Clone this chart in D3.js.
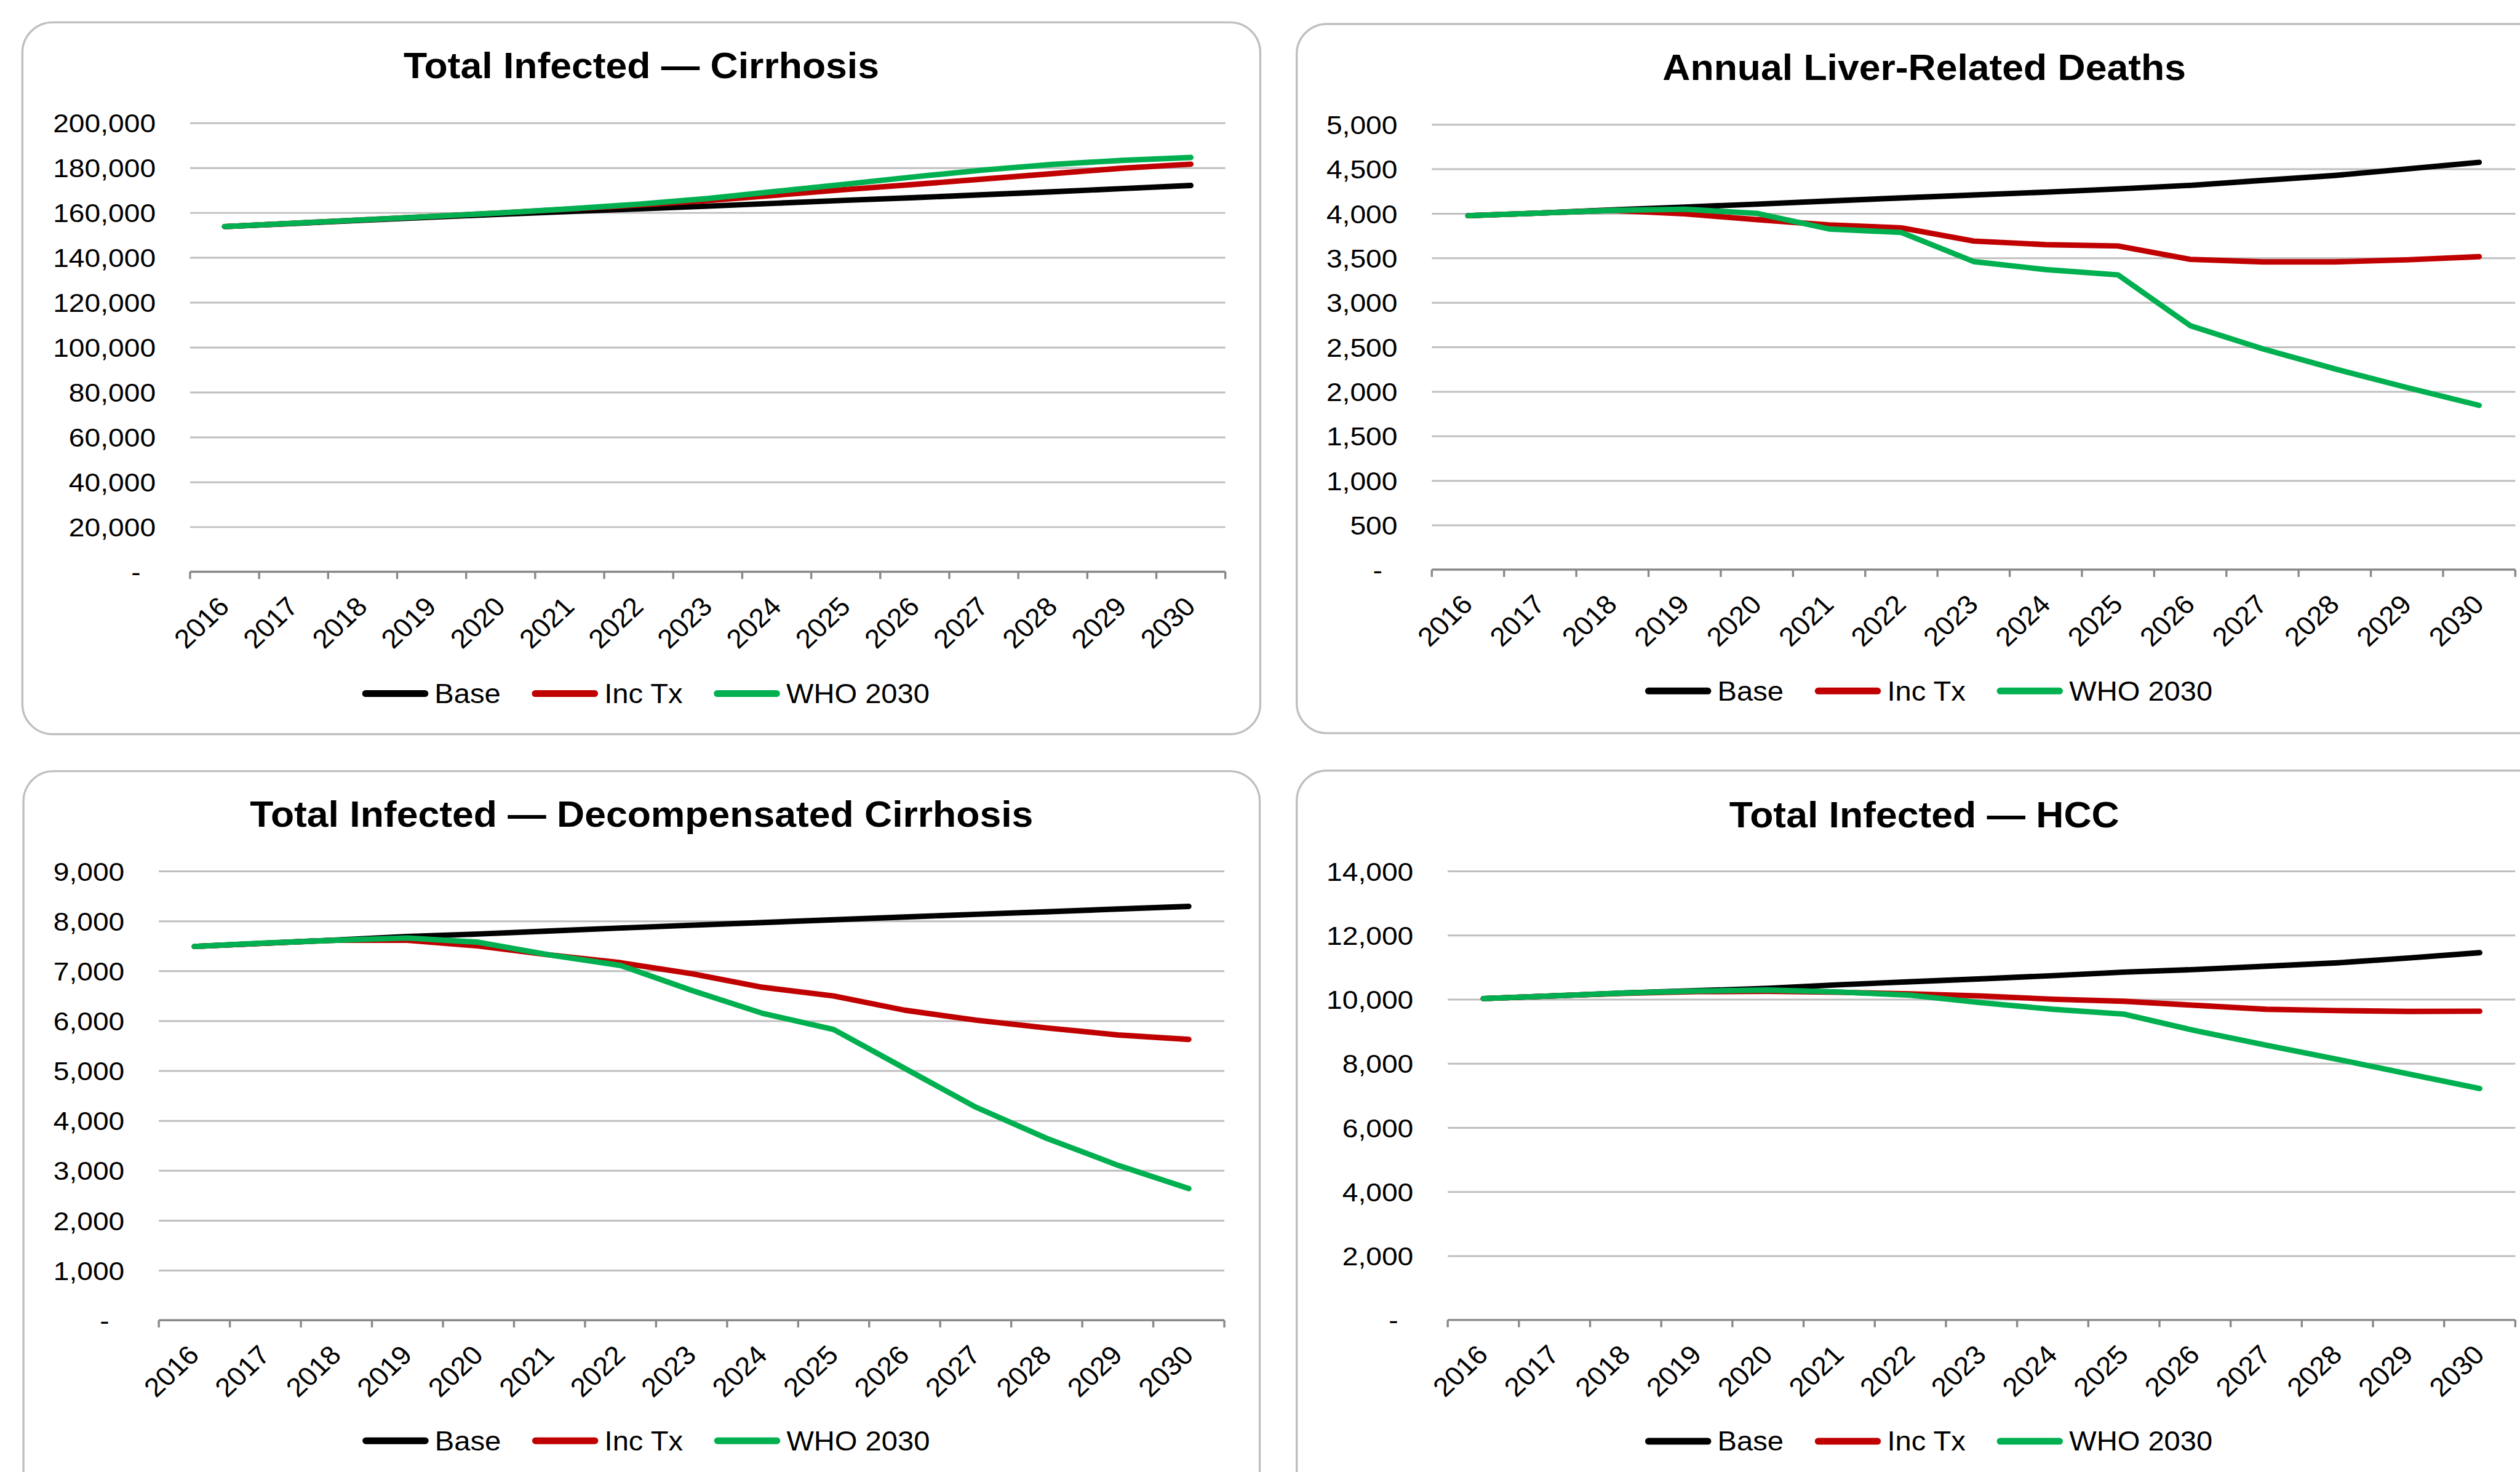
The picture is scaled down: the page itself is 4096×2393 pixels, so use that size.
<!DOCTYPE html>
<html>
<head>
<meta charset="utf-8">
<script src="https://cdn.jsdelivr.net/npm/d3@7"></script>
<style>
  html, body { margin: 0; padding: 0; background: #ffffff; overflow: hidden; }
  svg { display: block; }
</style>
</head>
<body>
<svg id="chart"></svg>
<script>
// ---- Data -------------------------------------------------------------
const years = ["2016","2017","2018","2019","2020","2021","2022","2023","2024","2025","2026","2027","2028","2029","2030"];
const seriesNames = ["Base", "Inc Tx", "WHO 2030"];
const seriesColors = ["#000000", "#C00000", "#00B050"];

// Total infected — cirrhosis
const cirrhosisBase  = [153800,155200,156600,158000,159300,160500,161700,162900,164200,165500,166700,168000,169300,170700,172100];
const cirrhosisIncTx = [153800,155300,156800,158300,159900,161600,163400,165400,167800,170300,172600,175000,177400,179800,181600];
const cirrhosisWho   = [153800,155300,156800,158300,159900,161700,163800,166300,169500,172700,176000,179000,181500,183300,184600];
const cirrhosisTicks = [20000,40000,60000,80000,100000,120000,140000,160000,180000,200000];

// Annual liver-related deaths
const deathsBase  = [3975,4005,4040,4072,4105,4140,4175,4208,4240,4276,4316,4372,4427,4500,4575];
const deathsIncTx = [3975,4005,4035,3996,3931,3871,3839,3690,3650,3635,3485,3456,3456,3480,3515];
const deathsWho   = [3975,4005,4035,4048,4001,3826,3787,3460,3370,3310,2740,2480,2255,2045,1845];
const deathsTicks = [500,1000,1500,2000,2500,3000,3500,4000,4500,5000];

// Total infected — decompensated cirrhosis
const decompBase  = [7490,7555,7620,7689,7740,7800,7860,7915,7970,8025,8080,8135,8185,8240,8293];
const decompIncTx = [7490,7555,7615,7615,7500,7320,7165,6946,6672,6497,6213,6015,5858,5717,5628];
const decompWho   = [7490,7560,7615,7660,7575,7320,7110,6610,6150,5827,5048,4271,3645,3106,2638];
const decompTicks = [1000,2000,3000,4000,5000,6000,7000,8000,9000];

// Total infected — HCC
const hccBase  = [10025,10110,10200,10270,10345,10455,10550,10640,10740,10850,10930,11035,11140,11290,11455];
const hccIncTx = [10025,10110,10190,10240,10250,10220,10170,10105,10005,9940,9815,9690,9650,9625,9630];
const hccWho   = [10025,10110,10200,10260,10290,10230,10130,9895,9690,9540,9025,8570,8130,7675,7220];
const hccTicks = [2000,4000,6000,8000,10000,12000,14000];

// ---- Layout -----------------------------------------------------------
const W = 4839, H = 2827;
const FONT = '"Liberation Sans", Arial, Helvetica, sans-serif';
const STRETCH = 1.07;

const panels = [
  { title: "Total Infected — Cirrhosis", series: [cirrhosisBase, cirrhosisIncTx, cirrhosisWho],
    ticks: cirrhosisTicks, max: 200000,
    box: { x: 43, y: 43, w: 2377, h: 1367 }, plot: { l: 365, r: 2353, t: 236, b: 1098 },
    titleY: 150, legendY: 1332 },
  { title: "Annual Liver-Related Deaths", series: [deathsBase, deathsIncTx, deathsWho],
    ticks: deathsTicks, max: 5000,
    box: { x: 2490, y: 46, w: 2410, h: 1362 }, plot: { l: 2749.5, r: 4830, t: 239, b: 1094 },
    titleY: 154, legendY: 1327 },
  { title: "Total Infected — Decompensated Cirrhosis", series: [decompBase, decompIncTx, decompWho],
    ticks: decompTicks, max: 9000,
    box: { x: 45, y: 1481, w: 2374, h: 1500 }, plot: { l: 305, r: 2351, t: 1673, b: 2535.5 },
    titleY: 1588, legendY: 2767 },
  { title: "Total Infected — HCC", series: [hccBase, hccIncTx, hccWho],
    ticks: hccTicks, max: 14000,
    box: { x: 2490, y: 1480, w: 2410, h: 1500 }, plot: { l: 2780, r: 4830, t: 1673, b: 2535 },
    titleY: 1589, legendY: 2768 }
];

const svg = d3.select("#chart")
  .attr("width", 4096).attr("height", 2393)
  .attr("viewBox", `0 0 ${W} ${H}`)
  .attr("preserveAspectRatio", "none")
  .style("font-family", FONT);

svg.append("rect").attr("width", W).attr("height", H).attr("fill", "#ffffff");

const fmt = d3.format(",");

panels.forEach(p => {
  const g = svg.append("g");

  // Rounded chart frame
  g.append("rect")
    .attr("x", p.box.x).attr("y", p.box.y)
    .attr("width", p.box.w).attr("height", p.box.h)
    .attr("rx", 58).attr("ry", 58)
    .attr("fill", "#ffffff").attr("stroke", "#BFBFBF").attr("stroke-width", 4);

  const cx = p.box.x + p.box.w / 2;

  // Title
  g.append("text")
    .attr("transform", `translate(${cx},${p.titleY}) scale(${STRETCH},1)`)
    .attr("text-anchor", "middle")
    .attr("font-size", 69).attr("font-weight", "bold").attr("fill", "#000")
    .text(p.title);

  const x = d3.scaleBand().domain(years).range([p.plot.l, p.plot.r]);
  const y = d3.scaleLinear().domain([0, p.max]).range([p.plot.b, p.plot.t]);

  // Horizontal gridlines
  const grid = g.append("g")
    .attr("transform", `translate(${p.plot.l},0)`)
    .call(d3.axisLeft(y).tickValues(p.ticks).tickSize(-(p.plot.r - p.plot.l)).tickFormat(""));
  grid.select(".domain").remove();
  grid.selectAll("line").attr("stroke", "#BFBFBF").attr("stroke-width", 3.5);

  // Y tick labels ("-" marks zero)
  const yAxis = g.append("g")
    .attr("transform", `translate(${p.plot.l},0)`)
    .call(d3.axisLeft(y).tickValues([0, ...p.ticks]).tickSize(0)
      .tickFormat(v => v === 0 ? "-" : fmt(v)));
  yAxis.select(".domain").remove();
  yAxis.attr("font-size", 51).attr("font-family", FONT);
  yAxis.selectAll("text")
    .attr("fill", "#000")
    .attr("x", 0)
    .attr("dy", "0.35em")
    .attr("transform", v => `translate(${v === 0 ? -95 : -66},0) scale(${STRETCH},1)`);

  // Category axis: baseline with ticks on band edges
  const edges = years.map(d => x(d)).concat([x.range()[1]]);
  g.append("line")
    .attr("x1", p.plot.l).attr("x2", p.plot.r)
    .attr("y1", p.plot.b).attr("y2", p.plot.b)
    .attr("stroke", "#898989").attr("stroke-width", 4);
  g.selectAll(null).data(edges).enter().append("line")
    .attr("x1", d => d).attr("x2", d => d)
    .attr("y1", p.plot.b).attr("y2", p.plot.b + 14)
    .attr("stroke", "#898989").attr("stroke-width", 4);

  // Rotated year labels
  g.selectAll(null).data(years).enter().append("text")
    .attr("transform", d => `translate(${x(d) + x.bandwidth() / 2 + 12},${p.plot.b + 70}) scale(${STRETCH},1) rotate(-45)`)
    .attr("text-anchor", "end")
    .attr("font-size", 51).attr("fill", "#000")
    .text(d => d);

  // Series lines
  const line = d3.line()
    .x((v, i) => x(years[i]) + x.bandwidth() / 2)
    .y(v => y(v));
  p.series.forEach((vals, k) => {
    g.append("path")
      .attr("d", line(vals))
      .attr("fill", "none")
      .attr("stroke", seriesColors[k])
      .attr("stroke-width", 10.5)
      .attr("stroke-linejoin", "round")
      .attr("stroke-linecap", "round");
  });

  // Legend
  let lx = cx - 536;
  seriesNames.forEach((name, k) => {
    g.append("line")
      .attr("x1", lx + 6.5).attr("x2", lx + 127 - 6.5)
      .attr("y1", p.legendY).attr("y2", p.legendY)
      .attr("stroke", seriesColors[k]).attr("stroke-width", 13)
      .attr("stroke-linecap", "round");
    const t = g.append("text")
      .attr("transform", `translate(${lx + 139},${p.legendY}) scale(${STRETCH},1)`)
      .attr("dy", "0.35em")
      .attr("font-size", 52).attr("fill", "#000")
      .text(name);
    lx += 139 + t.node().getComputedTextLength() * STRETCH + 60;
  });
});
</script>
</body>
</html>
